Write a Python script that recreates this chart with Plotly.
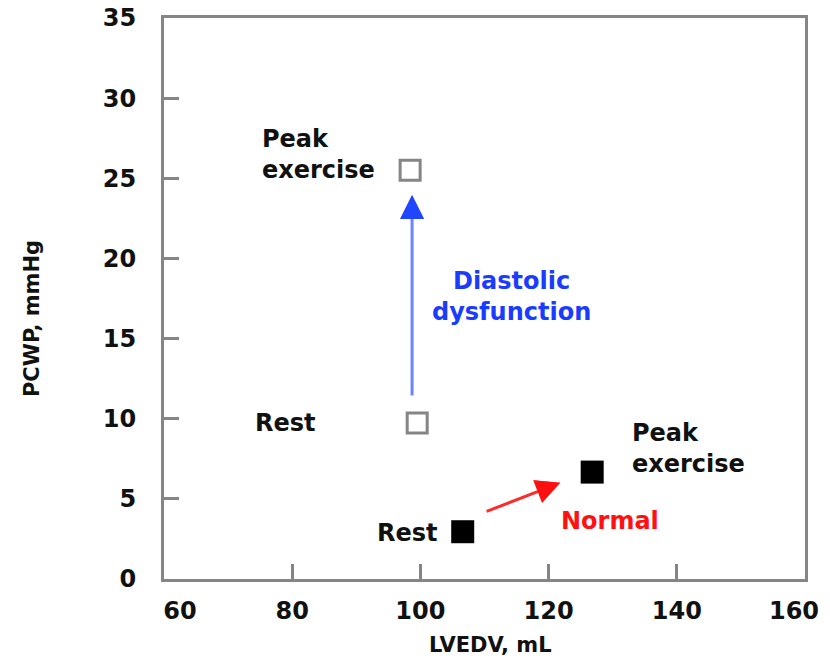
import plotly.graph_objects as go

# Data
dd_lvedv = [99.5, 98.4]        # diastolic dysfunction: rest, peak exercise
dd_pcwp = [9.73, 25.5]
nl_lvedv = [106.6, 126.8]      # normal: rest, peak exercise
nl_pcwp = [2.95, 6.67]

x_ticks_inner = [80, 100, 120, 140]
x_tick_first = [60]
x_tick_last = [160]
y_ticks = [0, 5, 10, 15, 20, 25, 30, 35]

# Arrow endpoints (data units)
blue_arrow = dict(x0=98.7, y0=11.35, x1=98.7, y1=23.95)
red_arrow = dict(x0=110.1, y0=4.18, x1=121.8, y1=6.0)

# Label positions (data units)
labels = [
    # x, y, text, side, color
    (93.2, 26.5, "<b>Peak<br>exercise</b>", "left_of", "#111111"),
    (84.0, 9.73, "<b>Rest</b>", "left_of", "#111111"),
    (103.1, 2.87, "<b>Rest</b>", "left_of", "#111111"),
    (132.7, 8.14, "<b>Peak<br>exercise</b>", "right_of", "#111111"),
    (129.5, 3.62, "<b>Normal</b>", "center", "#ff1111"),
    (114.2, 17.64, "<b>Diastolic<br>dysfunction</b>", "center", "#1a3cff"),
]

FONT = "DejaVu Sans"
GRAY = "#858585"
TXT = 24

fig = go.Figure()
fig.add_trace(go.Scatter(
    x=dd_lvedv, y=dd_pcwp, mode="markers",
    marker=dict(symbol="square", size=20, color="white",
                line=dict(color=GRAY, width=3)),
    showlegend=False, hoverinfo="skip"))
fig.add_trace(go.Scatter(
    x=nl_lvedv, y=nl_pcwp, mode="markers",
    marker=dict(symbol="square", size=23, color="black",
                line=dict(color="black", width=0)),
    showlegend=False, hoverinfo="skip"))
# empty traces so the overlaid label-only x axes are drawn
for ax in ("x2", "x3"):
    fig.add_trace(go.Scatter(x=[], y=[], xaxis=ax, yaxis="y", mode="markers",
                             showlegend=False, hoverinfo="skip"))

def arrow(a, line_color, head_color, frac):
    fig.add_annotation(x=a["x1"], y=a["y1"], ax=a["x0"], ay=a["y0"],
                       xref="x", yref="y", axref="x", ayref="y",
                       text="", showarrow=True, arrowhead=2, arrowsize=1.6,
                       arrowwidth=3, arrowcolor=line_color)
    sx = a["x1"] - (a["x1"] - a["x0"]) * frac
    sy = a["y1"] - (a["y1"] - a["y0"]) * frac
    fig.add_annotation(x=a["x1"], y=a["y1"], ax=sx, ay=sy,
                       xref="x", yref="y", axref="x", ayref="y",
                       text="", showarrow=True, arrowhead=2, arrowsize=1.6,
                       arrowwidth=3, arrowcolor=head_color)

arrow(blue_arrow, "#6a86ff", "#1f45ff", 0.12)
arrow(red_arrow, "#ff2a2a", "#ff1010", 0.3)

for x, y, text, side, color in labels:
    xa = {"left_of": "right", "right_of": "left", "center": "center"}[side]
    fig.add_annotation(x=x, y=y, xref="x", yref="y", text=text, showarrow=False,
                       xanchor=xa, yanchor="middle",
                       align="center" if side == "center" else "left",
                       font=dict(family=FONT, size=TXT, color=color))

# Axis titles
fig.add_annotation(x=0.51, y=-0.118, xref="paper", yref="paper", text="<b>LVEDV, mL</b>",
                   showarrow=False, xanchor="center", yanchor="middle",
                   font=dict(family=FONT, size=21, color="#111111"))
fig.add_annotation(x=-0.206, y=0.465, xref="paper", yref="paper", text="<b>PCWP, mmHg</b>",
                   showarrow=False, xanchor="center", yanchor="middle", textangle=-90,
                   font=dict(family=FONT, size=21, color="#111111"))

tickfont = dict(family=FONT, size=24, color="#111111")
axis_common = dict(showline=True, linecolor=GRAY, linewidth=3, mirror=True,
                   ticks="inside", ticklen=15, tickwidth=3, tickcolor=GRAY,
                   showgrid=False, zeroline=False, automargin=False,
                   ticklabeloverflow="allow", tickfont=tickfont)
label_axis = dict(overlaying="x", anchor="y", side="bottom", range=[60, 160],
                  showline=True, linecolor="rgba(0,0,0,0)", linewidth=3,
                  ticks="inside", ticklen=15, tickwidth=3, tickcolor="rgba(0,0,0,0)",
                  showgrid=False, zeroline=False,
                  automargin=False, ticklabeloverflow="allow", tickfont=tickfont,
                  ticklabelstandoff=8)

fig.update_layout(
    width=830, height=665,
    margin=dict(l=164, r=25, t=18, b=86),
    paper_bgcolor="white", plot_bgcolor="white",
    xaxis=dict(range=[60, 160], tickvals=x_ticks_inner,
               ticktext=[f"<b>{v}</b>" for v in x_ticks_inner],
               ticklabelstandoff=8, **axis_common),
    xaxis2=dict(tickvals=x_tick_first, ticktext=[f"<b>{v}</b>" for v in x_tick_first],
                ticklabelshift=16, **label_axis),
    xaxis3=dict(tickvals=x_tick_last, ticktext=[f"<b>{v}</b>" for v in x_tick_last],
                ticklabelshift=-11, **label_axis),
    yaxis=dict(range=[0, 35], tickvals=y_ticks,
               ticktext=[f"<b>{v}</b>" for v in y_ticks],
               ticklabelstandoff=20, **axis_common),
)

fig.write_html("out.html", config={"displayModeBar": False},
               post_script="document.body.style.margin='0';document.body.style.overflow='hidden';")
